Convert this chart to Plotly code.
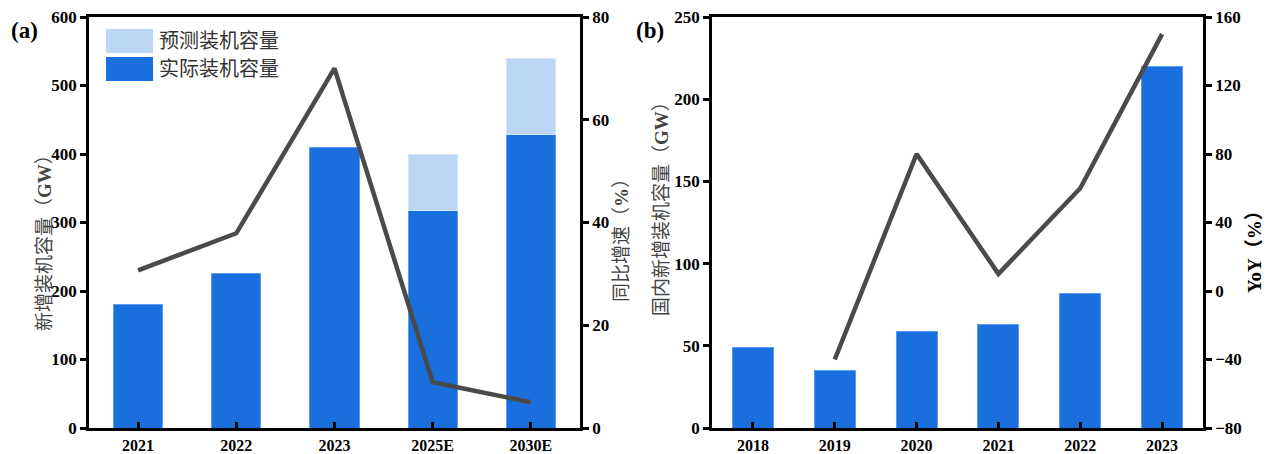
import plotly.graph_objects as go

# ---- panel (a): annual new installed capacity + growth ----
years_a = ["2021", "2022", "2023", "2025E", "2030E"]
actual_a = [180, 225, 410, 318, 428]          # GW, actual
forecast_total_a = [None, None, None, 400, 540]  # GW, forecast upper level
growth_a = [30.7, 37.9, 70, 8.9, 5.0]          # %

# ---- panel (b): domestic new installed capacity + YoY ----
years_b = ["2018", "2019", "2020", "2021", "2022", "2023"]
capacity_b = [49, 35, 59, 63, 82, 220]         # GW
yoy_b = [None, -40, 80, 10, 60, 150]           # %

BLUE = "#1a6fdf"
LIGHT = "#bcd6f6"
LINE = "#4a4a4a"
SERIF = "Liberation Serif, Times New Roman, serif"
CJK = "Liberation Serif, Noto Sans CJK SC, serif"

forecast_extra = [None if t is None else t - a for t, a in zip(forecast_total_a, actual_a)]

fig = go.Figure()
fig.add_trace(go.Bar(x=years_a, y=actual_a, marker=dict(color=BLUE, line=dict(color="#5e9cef", width=1)),
                     width=0.5, xaxis="x", yaxis="y", showlegend=False))
fig.add_trace(go.Bar(x=years_a, y=forecast_extra, base=actual_a,
                     marker=dict(color=LIGHT, line=dict(color="#d6e7fb", width=1)),
                     width=0.5, xaxis="x", yaxis="y", showlegend=False))
fig.add_trace(go.Scatter(x=years_a, y=growth_a, mode="lines", line=dict(color=LINE, width=4.5),
                         xaxis="x", yaxis="y2", showlegend=False))

fig.add_trace(go.Bar(x=years_b, y=capacity_b, marker=dict(color=BLUE, line=dict(color="#5e9cef", width=1)),
                     width=0.5, xaxis="x2", yaxis="y3", showlegend=False))
fig.add_trace(go.Scatter(x=years_b, y=yoy_b, mode="lines", line=dict(color=LINE, width=4.5),
                         xaxis="x2", yaxis="y4", showlegend=False, connectgaps=False))

W, H = 1273, 454
ytickfont = dict(family=SERIF, size=17, color="black", weight="bold")
xtickfont = dict(family=SERIF, size=16, color="black", weight="bold")
axis_common = dict(showline=True, linecolor="black", linewidth=2.5, showgrid=False, zeroline=False,
                   tickcolor="black", tickwidth=2.5, ticklen=6, automargin=False)

y_dom = [26 / H, 437 / H]
xa_dom = [89 / W, 580 / W]
xb_dom = [712 / W, 1203 / W]

fig.update_layout(
    width=W, height=H, margin=dict(l=0, r=0, t=0, b=0, autoexpand=False),
    paper_bgcolor="white", plot_bgcolor="white", barmode="stack", bargap=0.5,
    xaxis=dict(domain=xa_dom, anchor="y", ticks="inside", mirror=True, range=[-0.5, 4.5],
               ticklabelstandoff=1, tickfont=xtickfont, **axis_common),
    yaxis=dict(domain=y_dom, anchor="x", range=[0, 600], dtick=100, ticks="outside",
               tickfont=ytickfont, **axis_common),
    yaxis2=dict(overlaying="y", anchor="x", side="right", range=[0, 80], dtick=20, ticks="outside",
                tickfont=ytickfont, **axis_common),
    xaxis2=dict(domain=xb_dom, anchor="y3", ticks="inside", mirror=True, range=[-0.5, 5.5],
                ticklabelstandoff=1, tickfont=xtickfont, **axis_common),
    yaxis3=dict(domain=y_dom, anchor="x2", range=[0, 250], dtick=50, ticks="outside",
                tickfont=ytickfont, **axis_common),
    yaxis4=dict(overlaying="y3", anchor="x2", side="right", range=[-80, 160], dtick=40, ticks="outside",
                tickfont=ytickfont, **axis_common),
)

# legend for panel (a)
legend_items = [("预测装机容量", LIGHT, 29, 53), ("实际装机容量", BLUE, 57, 81)]
for label, color, top, bot in legend_items:
    fig.add_shape(type="rect", xref="paper", yref="paper",
                  x0=106 / W, x1=153 / W, y0=1 - bot / H, y1=1 - top / H,
                  fillcolor=color, line=dict(width=0))
    fig.add_annotation(text=label, xref="paper", yref="paper", x=157 / W, y=1 - (top + bot) / 2 / H,
                       xanchor="left", yanchor="middle", showarrow=False,
                       font=dict(family=CJK, size=20, color="#333333"))

title_font = dict(family=CJK, size=19, color="#444444")
# axis titles
fig.add_annotation(text="新增装机容量（<b>GW</b>）", xref="paper", yref="paper", x=45 / W, y=1 - 238 / H,
                   textangle=-90, showarrow=False, xanchor="center", yanchor="middle", font=title_font)
fig.add_annotation(text="同比增速（<b>%</b>）", xref="paper", yref="paper", x=621 / W, y=1 - 236 / H,
                   textangle=-90, showarrow=False, xanchor="center", yanchor="middle", font=title_font)
fig.add_annotation(text="国内新增装机容量（<b>GW</b>）", xref="paper", yref="paper", x=662 / W, y=1 - 204 / H,
                   textangle=-90, showarrow=False, xanchor="center", yanchor="middle", font=title_font)
fig.add_annotation(text="<b>YoY（%）</b>", xref="paper", yref="paper", x=1254 / W, y=1 - 247 / H,
                   textangle=-90, showarrow=False, xanchor="center", yanchor="middle",
                   font=dict(family=CJK, size=19, color="black"))

# panel labels
fig.add_annotation(text="<b>(a)</b>", xref="paper", yref="paper", x=24 / W, y=1 - 31 / H,
                   showarrow=False, xanchor="center", yanchor="middle",
                   font=dict(family=SERIF, size=23, color="black"))
fig.add_annotation(text="<b>(b)</b>", xref="paper", yref="paper", x=650 / W, y=1 - 31 / H,
                   showarrow=False, xanchor="center", yanchor="middle",
                   font=dict(family=SERIF, size=23, color="black"))

fig.write_html("out.html")
